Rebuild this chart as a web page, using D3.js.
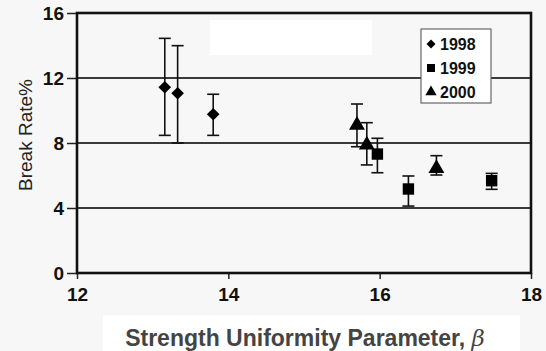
<!DOCTYPE html>
<html>
<head>
<meta charset="utf-8">
<script src="https://cdn.jsdelivr.net/npm/d3@7"></script>
<style>
html,body{margin:0;padding:0;background:#f7f7f7;}
svg{display:block;}
text{font-family:Arial,"Liberation Sans",sans-serif;}
</style>
</head>
<body>
<svg id="chart" width="546" height="351"></svg>
<script>
// Data
const series = ["1998", "1999", "2000"];
const s1998_x = [13.16, 13.33, 13.80];
const s1998_y = [11.43, 11.06, 9.77];
const s1998_lo = [8.47, 8.0, 8.47];
const s1998_hi = [14.44, 13.99, 11.0];
const s1999_x = [15.97, 16.38, 17.48];
const s1999_y = [7.32, 5.17, 5.68];
const s1999_lo = [6.17, 4.12, 5.15];
const s1999_hi = [8.29, 5.97, 6.13];
const s2000_x = [15.70, 15.83, 16.75];
const s2000_y = [9.10, 7.88, 6.44];
const s2000_lo = [7.77, 6.65, 6.03];
const s2000_hi = [10.40, 9.25, 7.22];
const xTicks = [12, 14, 16, 18];
const yTicks = [0, 4, 8, 12, 16];

const svg = d3.select("#chart");
const L = 77, R = 531, T = 13, B = 273;
const x = d3.scaleLinear().domain([12, 18]).range([L, R]);
const y = d3.scaleLinear().domain([0, 16]).range([B, T]);

// white patches present in the reference
svg.append("rect").attr("x", 210).attr("y", 20).attr("width", 162).attr("height", 35).attr("fill", "#fff");
svg.append("rect").attr("x", 103).attr("y", 315).attr("width", 417).attr("height", 36).attr("fill", "#fff");

// gridlines
svg.append("g").selectAll("line").data([4, 8, 12]).join("line")
  .attr("x1", L).attr("x2", R).attr("y1", d => y(d)).attr("y2", d => y(d))
  .attr("stroke", "#3a3a3a").attr("stroke-width", 1.8);

// axes
const yAxis = svg.append("g").attr("transform", `translate(${L},0)`)
  .call(d3.axisLeft(y).tickValues(yTicks).tickSize(10).tickPadding(3).tickFormat(d3.format("d")));
const xAxis = svg.append("g").attr("transform", `translate(0,${B})`)
  .call(d3.axisBottom(x).tickValues(xTicks).tickSize(6).tickPadding(9).tickFormat(d3.format("d")));
[yAxis, xAxis].forEach(a => {
  a.select(".domain").remove();
  a.selectAll(".tick line").attr("stroke", "#222").attr("stroke-width", 1.5);
  a.selectAll("text").attr("font-size", 19).attr("font-weight", "bold").attr("fill", "#111");
});
yAxis.selectAll("text").attr("dy", "0.36em");

// frame
svg.append("rect").attr("x", L).attr("y", T).attr("width", R - L).attr("height", B - T)
  .attr("fill", "none").attr("stroke", "#111").attr("stroke-width", 2.6);

// series data assembled
const all = [
  {name: "1998", shape: d3.symbolSquare, rot: 45, size: 80, xs: s1998_x, ys: s1998_y, lo: s1998_lo, hi: s1998_hi},
  {name: "1999", shape: d3.symbolSquare, rot: 0, size: 130, xs: s1999_x, ys: s1999_y, lo: s1999_lo, hi: s1999_hi},
  {name: "2000", shape: d3.symbolTriangle, rot: 0, size: 110, xs: s2000_x, ys: s2000_y, lo: s2000_lo, hi: s2000_hi}
];

const capW = 6;
all.forEach(s => {
  const pts = s.xs.map((v, i) => ({x: v, y: s.ys[i], lo: s.lo[i], hi: s.hi[i]}));
  const g = svg.append("g");
  g.selectAll("line.v").data(pts).join("line")
    .attr("x1", d => x(d.x)).attr("x2", d => x(d.x))
    .attr("y1", d => y(d.lo)).attr("y2", d => y(d.hi))
    .attr("stroke", "#111").attr("stroke-width", 1.6);
  g.selectAll("line.t").data(pts).join("line")
    .attr("x1", d => x(d.x) - capW).attr("x2", d => x(d.x) + capW)
    .attr("y1", d => y(d.hi)).attr("y2", d => y(d.hi))
    .attr("stroke", "#111").attr("stroke-width", 1.6);
  g.selectAll("line.b").data(pts).join("line")
    .attr("x1", d => x(d.x) - capW).attr("x2", d => x(d.x) + capW)
    .attr("y1", d => y(d.lo)).attr("y2", d => y(d.lo))
    .attr("stroke", "#111").attr("stroke-width", 1.6);
  g.selectAll("path").data(pts).join("path")
    .attr("d", d3.symbol().type(s.shape).size(s.size))
    .attr("transform", d => `translate(${x(d.x)},${y(d.y)}) rotate(${s.rot})`)
    .attr("fill", "#000");
});

// legend
const lg = svg.append("g");
lg.append("rect").attr("x", 421).attr("y", 29).attr("width", 70).attr("height", 74)
  .attr("fill", "#fff").attr("stroke", "#666").attr("stroke-width", 1.2);
all.forEach((s, i) => {
  const cy = 44 + i * 24;
  lg.append("path").attr("d", d3.symbol().type(s.shape).size(s.size * 0.5)())
    .attr("transform", `translate(431,${cy}) rotate(${s.rot})`).attr("fill", "#000");
  lg.append("text").attr("x", 440).attr("y", cy).attr("dy", "0.36em")
    .attr("font-size", 16).attr("font-weight", "bold").attr("fill", "#111").text(s.name);
});

// axis titles
svg.append("text").attr("transform", "translate(32,135) rotate(-90)")
  .attr("text-anchor", "middle").attr("font-size", 19).attr("fill", "#222").text("Break Rate%");
const xt = svg.append("text").attr("x", 305).attr("y", 346).attr("text-anchor", "middle")
  .attr("font-size", 23).attr("font-weight", "bold").attr("fill", "#444");
xt.append("tspan").text("Strength Uniformity Parameter, ");
xt.append("tspan").attr("font-family", "'DejaVu Serif',serif").attr("font-style", "italic").attr("font-weight", "normal").text("β");
</script>
</body>
</html>
